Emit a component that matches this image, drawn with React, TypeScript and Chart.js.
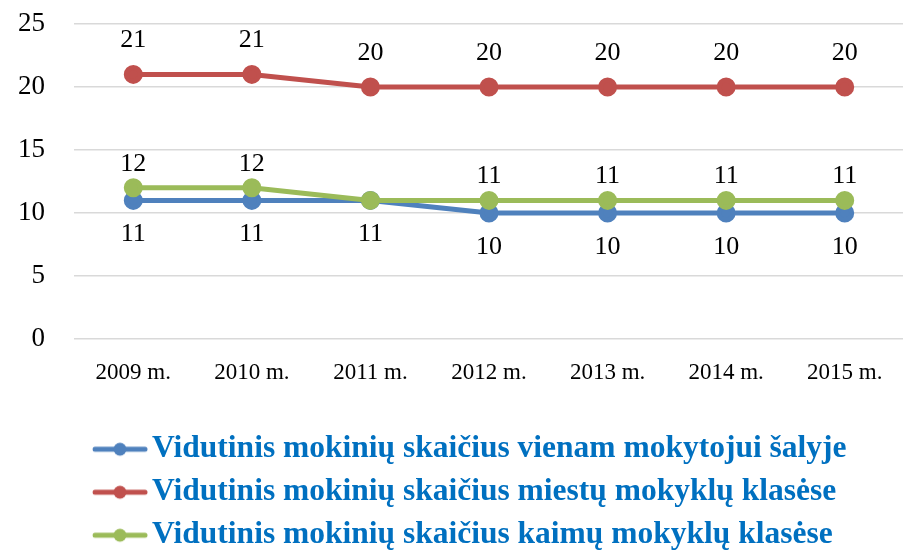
import React, { useEffect, useRef } from "react";
import { Chart, registerables } from "chart.js";

Chart.register(...registerables);

const categories = ["2009 m.", "2010 m.", "2011 m.", "2012 m.", "2013 m.", "2014 m.", "2015 m."];
const seriesNames = [
  "Vidutinis mokinių skaičius vienam mokytojui šalyje",
  "Vidutinis mokinių skaičius miestų mokyklų klasėse",
  "Vidutinis mokinių skaičius kaimų mokyklų klasėse",
];
const countryValues = [11, 11, 11, 10, 10, 10, 10];
const urbanValues = [21, 21, 20, 20, 20, 20, 20];
const ruralValues = [12, 12, 11, 11, 11, 11, 11];
const yMin = 0;
const yMax = 25;
const yStep = 5;

const COLORS = ["#4F81BD", "#C0504D", "#9BBB59"];
const SERIF = "'Liberation Serif', 'Times New Roman', serif";

function legendImage(color: string) {
  const c = document.createElement("canvas");
  c.width = 56;
  c.height = 16;
  const g = c.getContext("2d")!;
  g.strokeStyle = color;
  g.lineWidth = 5;
  g.lineCap = "round";
  g.beginPath();
  g.moveTo(3, 8);
  g.lineTo(53, 8);
  g.stroke();
  g.fillStyle = color;
  g.beginPath();
  g.arc(28, 8, 6.5, 0, Math.PI * 2);
  g.fill();
  return c;
}

const dataLabelPlugin = {
  id: "dataLabels",
  afterDatasetsDraw(chart: any) {
    const ctx = chart.ctx;
    const offsets = [34, -34, -24];
    ctx.save();
    ctx.font = `26px ${SERIF}`;
    ctx.fillStyle = "#000";
    ctx.textAlign = "center";
    ctx.textBaseline = "middle";
    chart.data.datasets.forEach((ds: any, i: number) => {
      const meta = chart.getDatasetMeta(i);
      meta.data.forEach((pt: any, j: number) => {
        const v = ds.data[j];
        if (i === 2 && v === chart.data.datasets[0].data[j]) return;
        ctx.fillText(String(v), pt.x, pt.y + offsets[i]);
      });
    });
    ctx.restore();
  },
};

const legendShiftPlugin = {
  id: "legendShift",
  afterLayout(chart: any) {
    const lg = chart.legend;
    if (lg) {
      const w = lg.width;
      lg.left = 92.25;
      lg.right = 92.25 + w;
    }
  },
};

export default function App() {
  const ref = useRef<HTMLCanvasElement>(null);
  useEffect(() => {
    if (!ref.current) return;
    const images = COLORS.map(legendImage);
    const mk = (label: string, data: number[], color: string, order: number) => ({
      label,
      data,
      borderColor: color,
      backgroundColor: color,
      pointBackgroundColor: color,
      pointBorderColor: color,
      borderWidth: 5,
      pointRadius: 7,
      pointHoverRadius: 7,
      tension: 0,
      order,
    });
    const chart = new Chart(ref.current, {
      type: "line",
      data: {
        labels: categories,
        datasets: [
          mk(seriesNames[0], countryValues, COLORS[0], 3),
          mk(seriesNames[1], urbanValues, COLORS[1], 2),
          mk(seriesNames[2], ruralValues, COLORS[2], 1),
        ],
      },
      options: {
        responsive: false,
        animation: false,
        layout: { padding: { top: 24, left: 0, right: 2, bottom: 0 } },
        scales: {
          x: {
            offset: true,
            grid: { display: false },
            border: { display: false },
            ticks: {
              padding: 12,
              color: "#000",
              font: { family: SERIF, size: 23 },
              maxRotation: 0,
              autoSkip: false,
            },
            afterFit(scale: any) {
              scale.height = 83;
              scale.paddingLeft = 0;
              scale.paddingRight = 0;
            },
          },
          y: {
            min: yMin,
            max: yMax,
            ticks: {
              stepSize: yStep,
              padding: 29,
              color: "#000",
              font: { family: SERIF, size: 27 },
            },
            grid: { color: "#D9D9D9", lineWidth: 1.5, drawTicks: false },
            border: { display: false },
            afterFit(scale: any) {
              scale.width = 74;
              scale.paddingTop = 0;
              scale.paddingBottom = 0;
            },
          },
        },
        plugins: {
          tooltip: { enabled: false },
          legend: {
            position: "bottom",
            align: "start",
            labels: {
              usePointStyle: true,
              pointStyleWidth: 32.5,
              padding: 11.5,
              color: "#0070C0",
              font: { family: SERIF, size: 31.5, weight: "bold", lineHeight: 1 },
              generateLabels(ch: any) {
                const items = Chart.defaults.plugins.legend.labels.generateLabels(ch);
                items.sort((a: any, b: any) => a.datasetIndex - b.datasetIndex);
                items.forEach((it: any) => {
                  it.pointStyle = images[it.datasetIndex];
                  it.fontColor = "#0070C0";
                });
                return items;
              },
            },
          },
        },
      },
      plugins: [dataLabelPlugin, legendShiftPlugin],
    } as any);
    return () => chart.destroy();
  }, []);
  return (
    <div
      style={{
        position: "fixed",
        left: 0,
        top: 0,
        width: 903,
        height: 551,
        overflow: "hidden",
        background: "#fff",
      }}
    >
      <canvas ref={ref} width={916} height={561} style={{ display: "block" }} />
    </div>
  );
}
